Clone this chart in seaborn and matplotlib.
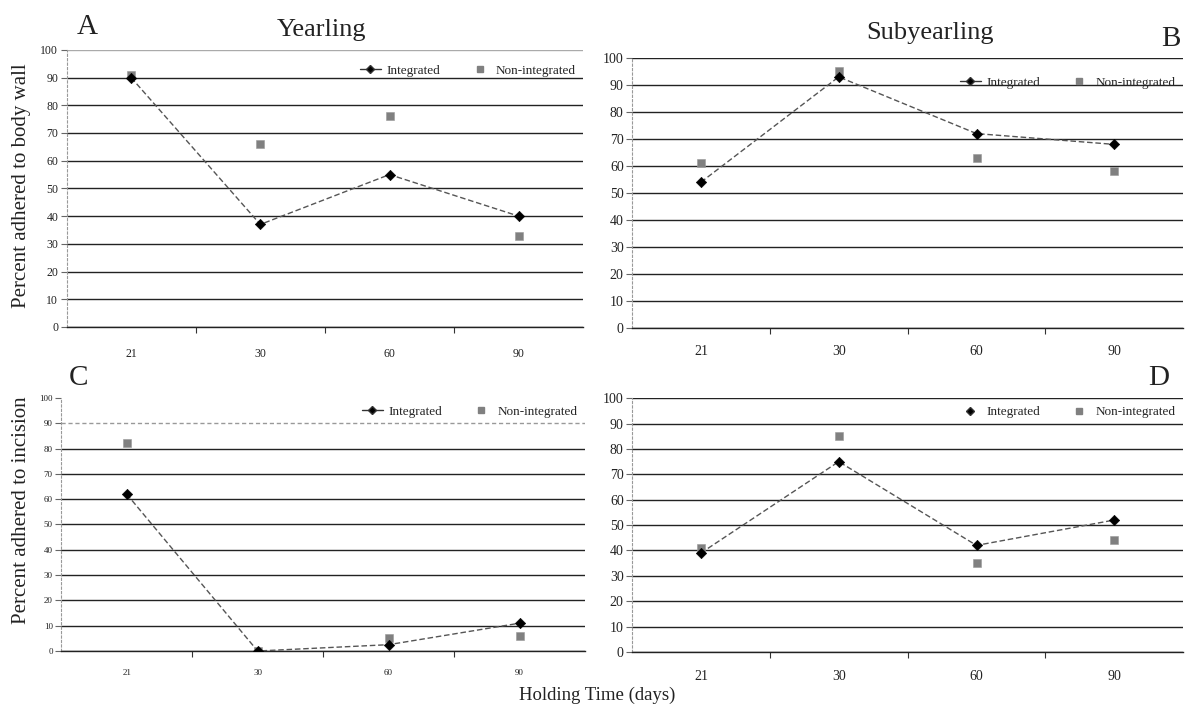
import numpy as np
import pandas as pd
import matplotlib
matplotlib.use("Agg")
import matplotlib.pyplot as plt
from matplotlib.lines import Line2D
import seaborn as sns

# holding time categories (days)
days = ["21", "30", "60", "90"]

# A: yearling, adhered to body wall
yr_wall_int = [90, 37, 55, 40]
yr_wall_non = [91, 66, 76, 33]
# B: subyearling, adhered to body wall
sub_wall_int = [54, 93, 72, 68]
sub_wall_non = [61, 95, 63, 58]
# C: yearling, adhered to incision
yr_inc_int = [62, 0, 2.5, 11]
yr_inc_non = [82, 0, 5, 6]
# D: subyearling, adhered to incision
sub_inc_int = [39, 75, 42, 52]
sub_inc_non = [41, 85, 35, 44]

sns.set_theme(style="white")
plt.rcParams['font.family'] = ['Liberation Serif', 'DejaVu Serif']

fig = plt.figure(figsize=(11.88, 7.07), dpi=100)

panels = [
    # rect, integrated, non-integrated, tick size, x pad, legend y, legend line, top line
    dict(rect=[0.056, 0.5375, 0.435, 0.392], integ=yr_wall_int, non=yr_wall_non,
         tsize=8.5, xpad=15, ly=0.975, legline=True, top='#aaaaaa'),
    dict(rect=[0.532, 0.536, 0.464, 0.382], integ=sub_wall_int, non=sub_wall_non,
         tsize=10, xpad=12, ly=0.96, legline=True, top='#222222'),
    dict(rect=[0.0515, 0.0792, 0.441, 0.358], integ=yr_inc_int, non=yr_inc_non,
         tsize=6.5, xpad=13, ly=1.0, legline=True, top=None),
    dict(rect=[0.532, 0.0778, 0.464, 0.359], integ=sub_inc_int, non=sub_inc_non,
         tsize=10, xpad=13, ly=1.0, legline=False, top='#222222'),
]

for p in panels:
    ax = fig.add_axes(p['rect'])
    df = pd.DataFrame({'day': days, 'Integrated': p['integ'],
                       'Non-integrated': p['non']})

    sns.lineplot(data=df, x='day', y='Integrated', ax=ax, color='#555555',
                 linestyle=(0, (4, 2)), linewidth=1.0, sort=False, zorder=3)
    sns.scatterplot(data=df, x='day', y='Integrated', ax=ax, marker='D',
                    color='black', s=28, edgecolor='black', zorder=5)
    sns.scatterplot(data=df, x='day', y='Non-integrated', ax=ax, marker='s',
                    color='#808080', s=26, edgecolor='#9a9a9a', zorder=4)

    ax.set_xlim(-0.5, 3.5)
    ax.set_ylim(0, 100)
    ax.set_yticks(np.arange(0, 101, 10))
    ax.set_xlabel('')
    ax.set_ylabel('')
    ax.yaxis.grid(True, color='#222222', linewidth=1.0)
    ax.set_axisbelow(True)
    glines = ax.get_ygridlines()
    if p['top'] is None:
        glines[-1].set_visible(False)
        glines[-2].set_color('#999999')
        glines[-2].set_linestyle((0, (3, 2)))
    else:
        glines[-1].set_color(p['top'])

    for side in ['top', 'right']:
        ax.spines[side].set_visible(False)
    ax.spines['left'].set_color('#999999')
    ax.spines['left'].set_linewidth(0.8)
    ax.spines['left'].set_linestyle((0, (2, 2)))
    ax.spines['bottom'].set_color('#222222')
    ax.spines['bottom'].set_linewidth(1.0)

    ax.set_xticks([0.5, 1.5, 2.5], minor=True)
    ax.tick_params(axis='x', which='minor', direction='out', length=4,
                   width=0.8, color='#333333', bottom=True)
    ax.tick_params(axis='x', which='major', length=0, labelsize=p['tsize'],
                   pad=p['xpad'])
    ax.tick_params(axis='y', which='major', direction='out', length=4,
                   width=0.8, color='#666666', left=True, labelsize=p['tsize'],
                   pad=2)
    for lab in ax.get_xticklabels() + ax.get_yticklabels():
        lab.set_color('#222222')

    h_int = Line2D([], [], color='#333333', marker='D', markersize=4.5,
                   markerfacecolor='black',
                   linestyle='-' if p['legline'] else 'none', linewidth=1.0)
    h_non = Line2D([], [], color='#808080', marker='s', markersize=4.5,
                   linestyle='none')
    ax.legend([h_int, h_non], ['Integrated', 'Non-integrated'], ncol=2,
              loc='upper right', bbox_to_anchor=(1.0, p['ly']), frameon=False,
              fontsize=9.5, handlelength=1.6, columnspacing=2.2,
              handletextpad=0.4, borderaxespad=0.2)

# panel titles and letters
fig.text(0.271, 0.957, 'Yearling', ha='center', va='center', fontsize=19, color='#222222')
fig.text(0.783, 0.954, 'Subyearling', ha='center', va='center', fontsize=19, color='#222222')
fig.text(0.073, 0.962, 'A', ha='center', va='center', fontsize=21, color='#222222')
fig.text(0.986, 0.945, 'B', ha='center', va='center', fontsize=21, color='#222222')
fig.text(0.066, 0.466, 'C', ha='center', va='center', fontsize=21, color='#222222')
fig.text(0.975, 0.466, 'D', ha='center', va='center', fontsize=21, color='#222222')

# shared axis labels
fig.text(0.018, 0.738, 'Percent adhered to body wall', rotation=90, ha='center',
         va='center', fontsize=15, color='#222222')
fig.text(0.018, 0.278, 'Percent adhered to incision', rotation=90, ha='center',
         va='center', fontsize=15, color='#222222')
fig.text(0.503, 0.017, 'Holding Time (days)', ha='center', va='center',
         fontsize=13.5, color='#222222')

fig.savefig('out.png', dpi=100, facecolor='white')
